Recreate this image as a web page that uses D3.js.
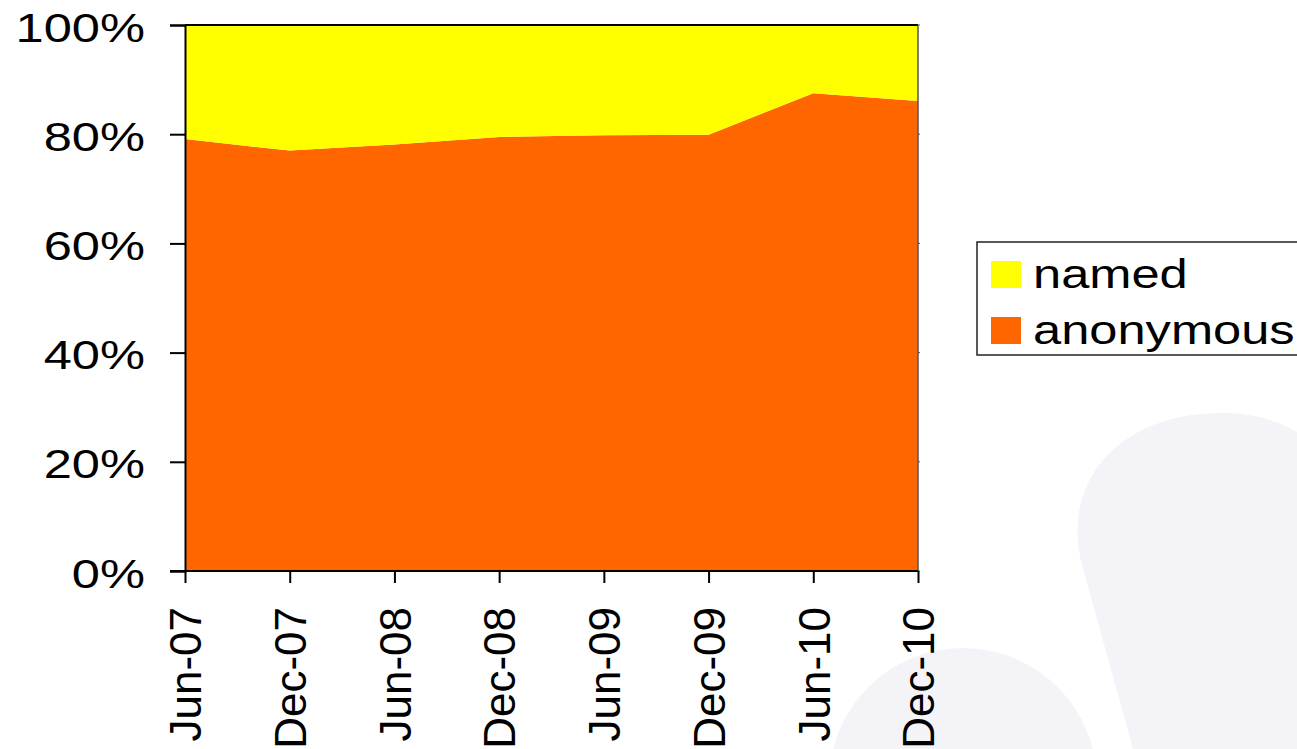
<!DOCTYPE html>
<html>
<head>
<meta charset="utf-8">
<script src="https://cdn.jsdelivr.net/npm/d3@7/dist/d3.min.js"></script>
<style>
  html, body { margin: 0; padding: 0; background: #fff; }
  svg { display: block; }
  text { font-family: "Liberation Sans", Arial, Helvetica, sans-serif; fill: #000; }
</style>
</head>
<body>
<svg id="chart" width="1297" height="749"></svg>
<script>
// Share of named vs anonymous, half-yearly
const periods   = ["Jun-07", "Dec-07", "Jun-08", "Dec-08", "Jun-09", "Dec-09", "Jun-10", "Dec-10"];
const anonymous = [79.1, 77.0, 78.1, 79.5, 79.8, 79.9, 87.5, 86.1];
const named     = [20.9, 23.0, 21.9, 20.5, 20.2, 20.1, 12.5, 13.9];
const yTicks    = [0, 20, 40, 60, 80, 100];
const seriesKeys   = ["anonymous", "named"];
const seriesColors = { anonymous: "#FF6600", named: "#FFFF00" };
const legendOrder  = ["named", "anonymous"];

const svg = d3.select("#chart");
const W = 1297, H = 749;
const margin = { left: 185, right: W - 918, top: 25, bottom: H - 571 };
const x0 = margin.left, x1 = W - margin.right, y0 = H - margin.bottom, y1 = margin.top;

// faint decorative background shapes
const bg = svg.append("g").attr("fill", "#f4f4f8");
bg.append("path").attr("d",
  "M1133,749 L1082,565 C1060,480 1120,413 1222,413 C1300,413 1345,460 1345,520 L1345,749 Z");
bg.append("circle").attr("cx", 963).attr("cy", 782).attr("r", 134);

const rows = periods.map((p, i) => ({ period: p, anonymous: anonymous[i], named: named[i] }));
const stacked = d3.stack().keys(seriesKeys).offset(d3.stackOffsetExpand)(rows);

const x = d3.scalePoint().domain(periods).range([x0, x1]);
const y = d3.scaleLinear().domain([0, 1]).range([y0, y1]);

const area = d3.area()
  .x(d => x(d.data.period))
  .y0(d => y(d[0]))
  .y1(d => y(d[1]));

svg.append("g").selectAll("path")
  .data(stacked)
  .join("path")
  .attr("fill", d => seriesColors[d.key])
  .attr("d", area);

// plot frame: top and right edges
svg.append("line").attr("x1", x0).attr("x2", x1).attr("y1", y1).attr("y2", y1)
  .attr("stroke", "#000").attr("stroke-width", 2);
svg.append("line").attr("x1", x1).attr("x2", x1).attr("y1", y1).attr("y2", y0)
  .attr("stroke", "#555").attr("stroke-width", 1.5);
svg.append("g").selectAll("line").data(yTicks).join("line")
  .attr("x1", x1).attr("x2", x1 + 2)
  .attr("y1", d => y(d / 100)).attr("y2", d => y(d / 100))
  .attr("stroke", "#555").attr("stroke-width", 1);

// y axis
const yAxis = svg.append("g").attr("transform", `translate(${x0},0)`)
  .call(d3.axisLeft(y).tickValues(yTicks.map(v => v / 100))
    .tickFormat(d3.format(".0%")).tickSize(15).tickPadding(0));
yAxis.select(".domain").attr("stroke", "#000").attr("stroke-width", 2);
yAxis.selectAll(".tick line").attr("stroke", "#000").attr("stroke-width", 2);
yAxis.selectAll(".tick text")
  .attr("font-size", 40.5)
  .attr("x", 0).attr("dy", 0).attr("y", 16)
  .attr("text-anchor", "end")
  .attr("transform", "translate(-40,0) scale(1.25,1)");

// x axis
const xAxis = svg.append("g").attr("transform", `translate(0,${y0})`)
  .call(d3.axisBottom(x).tickSize(12).tickPadding(0));
xAxis.select(".domain").attr("stroke", "#000").attr("stroke-width", 2)
  .attr("d", `M${x0 - 15},0H${x1}`);
xAxis.selectAll(".tick line").attr("stroke", "#000").attr("stroke-width", 2);
xAxis.selectAll(".tick text")
  .attr("font-size", 44)
  .attr("text-anchor", "end")
  .attr("transform", "rotate(-90)")
  .attr("x", -36).attr("y", 0).attr("dy", "0.36em");

// legend
const legend = svg.append("g");
legend.append("rect").attr("x", 977).attr("y", 242).attr("width", 340).attr("height", 113)
  .attr("fill", "#fff").attr("stroke", "#222").attr("stroke-width", 1.5);
const item = legend.selectAll("g.item").data(legendOrder).join("g")
  .attr("class", "item")
  .attr("transform", (d, i) => `translate(991,${261 + i * 56})`);
item.append("rect").attr("width", 30).attr("height", 27).attr("fill", d => seriesColors[d]);
item.append("text")
  .attr("font-size", 40.5)
  .attr("transform", "translate(42,27) scale(1.25,1)")
  .text(d => d);
</script>
</body>
</html>
